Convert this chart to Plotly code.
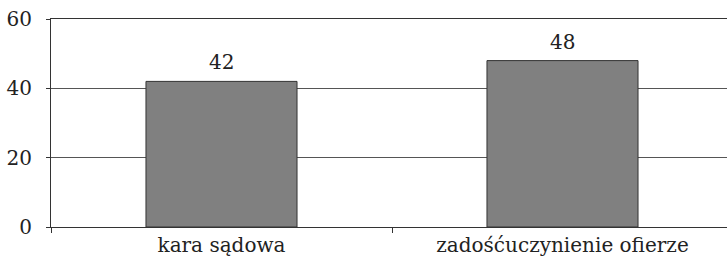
import plotly.graph_objects as go

categories = ["kara sądowa", "zadośćuczynienie ofierze"]
values = [42, 48]
y_ticks = [0, 20, 40, 60]

FONT = "DejaVu Serif"
FS = 20

fig = go.Figure(go.Bar(
    x=categories, y=values,
    marker=dict(color="#808080", line=dict(color="#333333", width=1)),
    width=0.443,
))

for c, v in zip(categories, values):
    fig.add_annotation(x=c, y=v, text=str(v), showarrow=False,
                       yanchor="bottom", yshift=5,
                       font=dict(family=FONT, size=FS, color="#222222"))

fig.update_layout(
    width=733, height=258,
    margin=dict(l=51, r=0, t=19, b=31),
    paper_bgcolor="white", plot_bgcolor="white",
    font=dict(family=FONT, size=FS, color="#222222"),
    showlegend=False,
    xaxis=dict(showline=True, linecolor="#333333", linewidth=1,
               mirror=True, automargin=False,
               ticks="outside", tickson="boundaries", ticklen=5,
               tickcolor="#333333", showgrid=False,
               tickfont=dict(size=FS)),
    yaxis=dict(range=[0, 60], tickvals=y_ticks, showgrid=True,
               gridcolor="#555555", gridwidth=1, showline=True,
               linecolor="#333333", linewidth=1, ticks="outside",
               ticklen=4, tickcolor="#333333", zeroline=False,
               automargin=False, ticklabelstandoff=10,
               tickfont=dict(size=FS)),
)

fig.write_html("out.html", config={"displayModeBar": False},
               post_script="document.body.style.margin='0';document.body.style.overflow='hidden';")
